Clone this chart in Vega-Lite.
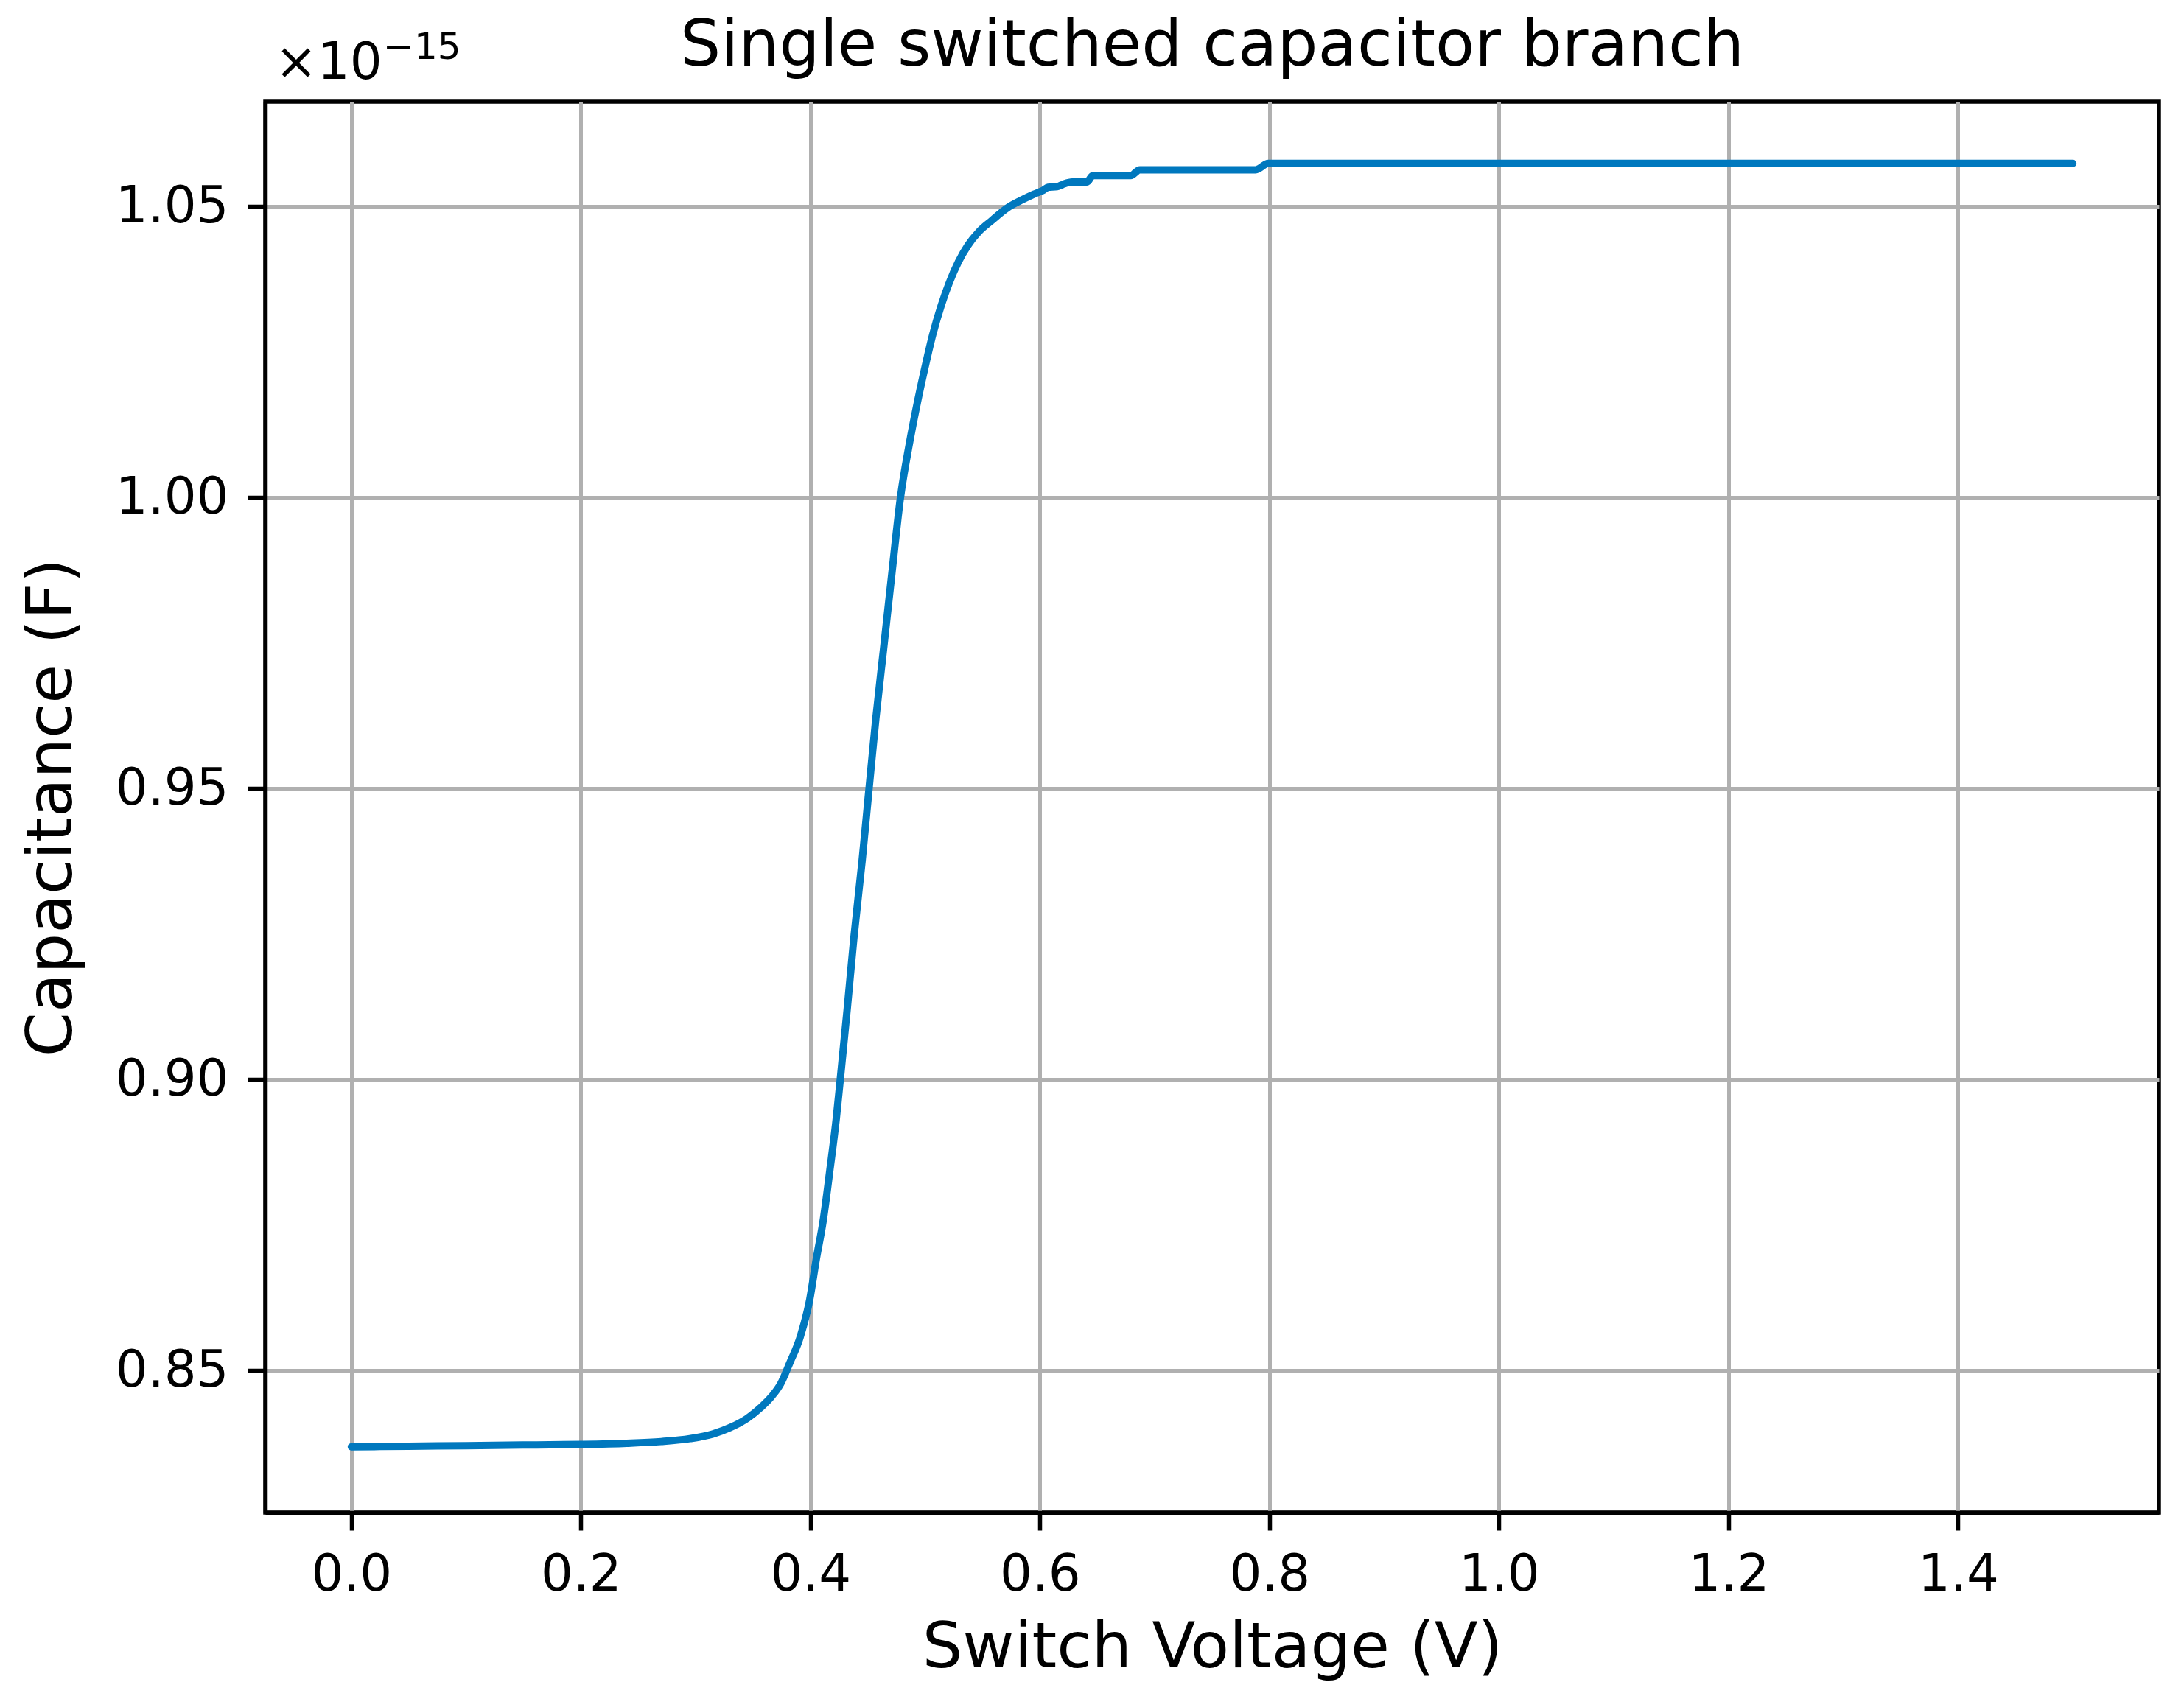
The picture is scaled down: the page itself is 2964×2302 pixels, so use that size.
{
  "$schema": "https://vega.github.io/schema/vega-lite/v6.json",
  "width": 2570,
  "height": 1915,
  "autosize": {"type": "none"},
  "padding": {"left": 360, "top": 138, "right": 34, "bottom": 249},
  "background": "white",
  "config": {
    "font": "DejaVu Sans",
    "view": {"stroke": "black", "strokeWidth": 5.5},
    "axis": {
      "domainColor": "black",
      "domainWidth": 5.5,
      "tickColor": "black",
      "tickWidth": 5.5,
      "tickSize": 24,
      "labelFontSize": 69,
      "labelColor": "black",
      "labelPadding": 26,
      "titleFontSize": 86,
      "titleFontWeight": "normal",
      "titleColor": "black",
      "gridColor": "#b0b0b0",
      "gridWidth": 5,
      "grid": true
    }
  },
  "title": {
    "text": "Single switched capacitor branch",
    "fontSize": 87,
    "fontWeight": "normal",
    "color": "black",
    "anchor": "middle",
    "frame": "group",
    "baseline": "alphabetic",
    "offset": -136
  },
  "datasets": {
    "curve": [
      {"voltage": 0.000, "capacitance": 0.8369},
      {"voltage": 0.050, "capacitance": 0.8370},
      {"voltage": 0.100, "capacitance": 0.8371},
      {"voltage": 0.150, "capacitance": 0.8372},
      {"voltage": 0.200, "capacitance": 0.8373},
      {"voltage": 0.240, "capacitance": 0.8375},
      {"voltage": 0.270, "capacitance": 0.8378},
      {"voltage": 0.295, "capacitance": 0.8383},
      {"voltage": 0.315, "capacitance": 0.8391},
      {"voltage": 0.330, "capacitance": 0.8402},
      {"voltage": 0.345, "capacitance": 0.8418},
      {"voltage": 0.357, "capacitance": 0.8437},
      {"voltage": 0.366, "capacitance": 0.8455},
      {"voltage": 0.374, "capacitance": 0.8477},
      {"voltage": 0.382, "capacitance": 0.8513},
      {"voltage": 0.391, "capacitance": 0.8557},
      {"voltage": 0.3995, "capacitance": 0.8623},
      {"voltage": 0.405, "capacitance": 0.8690},
      {"voltage": 0.411, "capacitance": 0.8756},
      {"voltage": 0.417, "capacitance": 0.8845},
      {"voltage": 0.4226, "capacitance": 0.8934},
      {"voltage": 0.426, "capacitance": 0.9000},
      {"voltage": 0.432, "capacitance": 0.9120},
      {"voltage": 0.438, "capacitance": 0.9246},
      {"voltage": 0.445, "capacitance": 0.9375},
      {"voltage": 0.451, "capacitance": 0.9498},
      {"voltage": 0.457, "capacitance": 0.9620},
      {"voltage": 0.4637, "capacitance": 0.9739},
      {"voltage": 0.471, "capacitance": 0.9870},
      {"voltage": 0.4786, "capacitance": 1.0002},
      {"voltage": 0.486, "capacitance": 1.0090},
      {"voltage": 0.4937, "capacitance": 1.0168},
      {"voltage": 0.500, "capacitance": 1.0225},
      {"voltage": 0.5066, "capacitance": 1.0280},
      {"voltage": 0.514, "capacitance": 1.0330},
      {"voltage": 0.521, "capacitance": 1.0369},
      {"voltage": 0.529, "capacitance": 1.0405},
      {"voltage": 0.5372, "capacitance": 1.0433},
      {"voltage": 0.547, "capacitance": 1.0457},
      {"voltage": 0.5575, "capacitance": 1.0475},
      {"voltage": 0.572, "capacitance": 1.0498},
      {"voltage": 0.583, "capacitance": 1.0510},
      {"voltage": 0.5946, "capacitance": 1.0521},
      {"voltage": 0.603, "capacitance": 1.0528},
      {"voltage": 0.607, "capacitance": 1.0533},
      {"voltage": 0.615, "capacitance": 1.0534},
      {"voltage": 0.620, "capacitance": 1.0538},
      {"voltage": 0.628, "capacitance": 1.0542},
      {"voltage": 0.641, "capacitance": 1.0542},
      {"voltage": 0.646, "capacitance": 1.0553},
      {"voltage": 0.679, "capacitance": 1.0553},
      {"voltage": 0.687, "capacitance": 1.0563},
      {"voltage": 0.788, "capacitance": 1.0563},
      {"voltage": 0.799, "capacitance": 1.0574},
      {"voltage": 1.000, "capacitance": 1.0574},
      {"voltage": 1.200, "capacitance": 1.0574},
      {"voltage": 1.500, "capacitance": 1.0574}
    ]
  },
  "layer": [
    {
      "data": {"name": "curve"},
      "mark": {"type": "line", "color": "#0078BE", "strokeWidth": 10, "strokeCap": "round", "strokeJoin": "round", "interpolate": "monotone"},
      "encoding": {
        "x": {
          "field": "voltage",
          "type": "quantitative",
          "scale": {"domain": [-0.075, 1.575], "nice": false, "zero": false},
          "axis": {"values": [0, 0.2, 0.4, 0.6, 0.8, 1.0, 1.2, 1.4], "format": ".1f", "titlePadding": 22},
          "title": "Switch Voltage (V)"
        },
        "y": {
          "field": "capacitance",
          "type": "quantitative",
          "scale": {"domain": [0.8256, 1.068], "nice": false, "zero": false},
          "axis": {"values": [0.85, 0.9, 0.95, 1.0, 1.05], "format": ".2f", "titlePadding": 46},
          "title": "Capacitance (F)"
        }
      }
    },
    {
      "data": {"values": [{}]},
      "mark": {"type": "text", "fontSize": 69, "align": "left", "baseline": "alphabetic", "dx": 13, "dy": -31, "color": "black"},
      "encoding": {
        "x": {"datum": -0.075, "type": "quantitative", "title": "Switch Voltage (V)"},
        "y": {"datum": 1.068, "type": "quantitative", "title": "Capacitance (F)"},
        "text": {"value": "×10"}
      }
    },
    {
      "data": {"values": [{}]},
      "mark": {"type": "text", "fontSize": 50, "align": "left", "baseline": "alphabetic", "dx": 160, "dy": -58, "color": "black"},
      "encoding": {
        "x": {"datum": -0.075, "type": "quantitative", "title": "Switch Voltage (V)"},
        "y": {"datum": 1.068, "type": "quantitative", "title": "Capacitance (F)"},
        "text": {"value": "−15"}
      }
    }
  ]
}
